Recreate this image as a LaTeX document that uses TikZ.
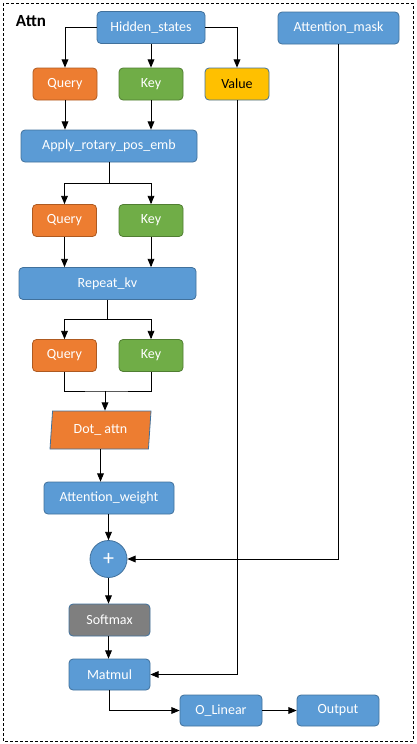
\documentclass[tikz,border=0pt]{standalone}
\usepackage{fontspec}
\setmainfont{Carlito}
\usetikzlibrary{arrows,%
                shapes.geometric}
\definecolor{boxblue}{HTML}{5B9BD5}
\definecolor{edgeblue}{HTML}{41719C}
\definecolor{boxorange}{HTML}{ED7D31}
\definecolor{edgeorange}{HTML}{AE5A21}
\definecolor{boxgreen}{HTML}{70AD47}
\definecolor{edgegreen}{HTML}{507E32}
\definecolor{boxyellow}{HTML}{FFC000}
\definecolor{boxgray}{HTML}{7F7F7F}

\begin{document}
\begin{tikzpicture}[x=1pt, y=-1pt, >=triangle 45,
  every node/.style={font=\fontsize{14}{16}\selectfont, inner sep=0pt},
  blk/.style={draw=edgeblue, fill=boxblue, text=white, rounded corners=4pt, line width=0.8pt, minimum height=32pt},
  qbox/.style={blk, draw=edgeorange, fill=boxorange, minimum width=64pt},
  kbox/.style={blk, draw=edgegreen, fill=boxgreen, minimum width=64pt},
  link/.style={->, line width=0.9pt}]

\useasboundingbox (0,0) rectangle (416,744);
\draw[dash pattern=on 3pt off 2pt, line width=0.8pt] (3,3) rectangle (413,741);
\node[font=\fontsize{17}{19}\selectfont\bfseries] (Title) at (31,21) {Attn};

\node[blk, minimum width=108pt] (HidS) at (151,27.5) {Hidden\_states};
\node[blk, minimum width=121pt] (MaskA) at (338.5,28) {Attention\_mask};

\node[qbox] (Q1) at (65,84) {Query};
\node[kbox] (K1) at (151,84) {Key};
\node[blk, fill=boxyellow, text=black, minimum width=64pt] (V1) at (237,84) {Value};
\draw[link] (HidS.west) -| (Q1.north);
\draw[link] (HidS.south) -- (K1.north);
\draw[link] (HidS.east) -| (V1.north);

\node[blk, minimum width=176pt] (Rope) at (109,146) {Apply\_rotary\_pos\_emb};
\draw[link] (Q1.south) -- (Q1.south |- Rope.north);
\draw[link] (K1.south) -- (K1.south |- Rope.north);

\node[qbox] (Q2) at (64.5,220.5) {Query};
\node[kbox] (K2) at (151,220.5) {Key};
\coordinate (SplitA) at (109,183);
\draw[link] (Rope.south) -- (SplitA) -| (Q2.north);
\draw[link] (SplitA) -| (K2.north);

\node[blk, minimum width=177pt] (Rep) at (107.5,283.5) {Repeat\_kv};
\draw[link] (Q2.south) -- (Q2.south |- Rep.north);
\draw[link] (K2.south) -- (K2.south |- Rep.north);

\node[qbox] (Q3) at (64.5,355.5) {Query};
\node[kbox] (K3) at (151,355.5) {Key};
\coordinate (SplitB) at (107.5,319);
\draw[link] (Rep.south) -- (SplitB) -| (Q3.north);
\draw[link] (SplitB) -| (K3.north);

\node[trapezium, trapezium left angle=76.7, trapezium right angle=103.3,
      trapezium stretches body, draw=edgeblue, fill=boxorange, text=white,
      line width=0.8pt, minimum width=101pt, minimum height=38pt] (DotA) at (100.5,430) {Dot\_ attn};
\coordinate (JoinC) at (105,391);
\draw[line width=0.9pt] (Q3.south) |- (JoinC) -| (K3.south);
\draw[link] (JoinC) -- (JoinC |- DotA.north);

\node[blk, minimum width=130pt] (AttW) at (109,498) {Attention\_weight};
\draw[link] (DotA.south) -- (DotA.south |- AttW.north);

\node[circle, draw=edgeblue, fill=boxblue, text=white, line width=0.8pt,
      minimum size=37pt, font=\fontsize{22}{24}\selectfont] (Plus) at (108.5,559) {+};
\draw[link] (AttW.south -| Plus.north) -- (Plus.north);
\draw[link] (MaskA.south) |- (Plus.east);

\node[blk, fill=boxgray, minimum width=81pt] (Soft) at (109.5,620) {Softmax};
\draw[link] (Plus.south) -- (Plus.south |- Soft.north);

\node[blk, minimum width=81pt, minimum height=31pt] (Mat) at (109.5,674.5) {Matmul};
\draw[link] (Soft.south -| Plus.south) -- (Plus.south |- Mat.north);
\draw[link] (V1.south) |- (Mat.east);

\node[blk, minimum width=82pt, minimum height=31pt] (OLin) at (221,710.5) {O\_Linear};
\node[blk, minimum width=82pt, minimum height=31pt] (Out) at (338,710.5) {Output};
\draw[link] (Mat.south) |- (OLin.west);
\draw[link] (OLin.east) -- (Out.west);

\end{tikzpicture}
\end{document}
